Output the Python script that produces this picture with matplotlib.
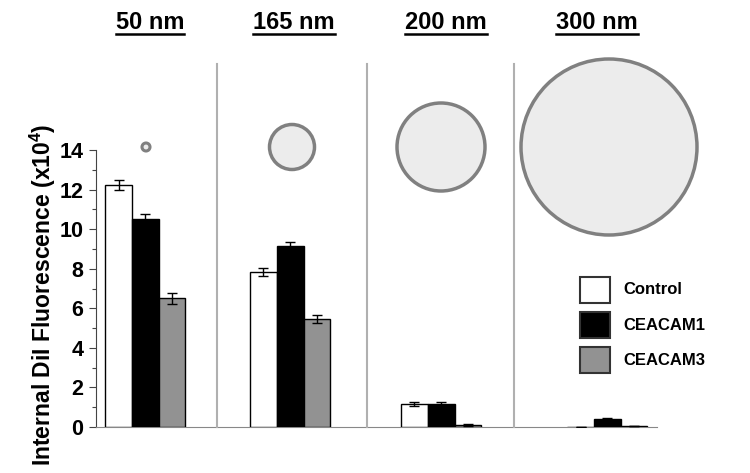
import matplotlib
matplotlib.use("Agg")
import matplotlib.pyplot as plt
from matplotlib.patches import Circle, Rectangle
from matplotlib.lines import Line2D
import numpy as np

plt.rcParams['font.family'] = ['Liberation Sans', 'DejaVu Sans']
plt.rcParams['mathtext.fontset'] = 'custom'
plt.rcParams['mathtext.bf'] = 'Liberation Sans:bold'
plt.rcParams['mathtext.rm'] = 'Liberation Sans:bold'

# data
sizes = ['50 nm', '165 nm', '200 nm', '300 nm']
series = ['Control', 'CEACAM1', 'CEACAM3']
control = [12.25, 7.85, 1.15, 0.02]
ceacam1 = [10.5, 9.15, 1.15, 0.40]
ceacam3 = [6.5, 5.45, 0.10, 0.05]
control_err = [0.25, 0.2, 0.1, 0.0]
ceacam1_err = [0.25, 0.2, 0.12, 0.04]
ceacam3_err = [0.28, 0.2, 0.03, 0.0]
# particle sketch radii (pixels) roughly scaled to diameter
circle_r = [4, 22.5, 44, 88]

colors = ['white', 'black', '#929292']
W, H, DPI = 750, 473, 100

fig = plt.figure(figsize=(W / DPI, H / DPI), dpi=DPI)
ax = fig.add_axes([96 / W, (H - 427) / H, (657 - 96) / W, (427 - 150) / H])

centers = np.array([1.85, 7.27, 12.92, 19.14])
bw = 1.0
vals = [control, ceacam1, ceacam3]
errs = [control_err, ceacam1_err, ceacam3_err]
for i, (v, e) in enumerate(zip(vals, errs)):
    x = centers + (i - 1) * bw
    ax.bar(x, v, width=bw, color=colors[i], edgecolor='black', linewidth=1.0,
           yerr=e, capsize=3.5, error_kw=dict(elinewidth=1.0, capthick=1.0, ecolor='black'),
           label=series[i], zorder=3)

ax.set_xlim(0, 21)
ax.set_ylim(0, 14)
ax.set_yticks(np.arange(0, 15, 2))
ax.set_yticks(np.arange(1, 14, 2), minor=True)
ax.set_xticks([])
for s in ['top', 'right']:
    ax.spines[s].set_visible(False)
ax.spines['left'].set_color('#444444')
ax.spines['bottom'].set_color('#888888')
ax.tick_params(axis='y', which='major', length=5, width=0.8, color='#444444',
               labelsize=15.5, pad=4)
ax.tick_params(axis='y', which='minor', length=3, width=0.8, color='#444444')
for lab in ax.get_yticklabels():
    lab.set_fontweight('bold')

fig.text(43 / W, (H - 295) / H, r'Internal DiI Fluorescence (x10$^{\mathbf{4}}$)',
         fontsize=16.5, fontweight='bold', rotation=90, ha='center', va='center')

tr = fig.dpi_scale_trans

def px(x, y):
    return (x / DPI, (H - y) / DPI)

# separators
for sx in [217, 367, 514]:
    fig.add_artist(Line2D([sx / DPI, sx / DPI], [(H - 64) / DPI, (H - 427) / DPI],
                          transform=tr, color='#b0b0b0', linewidth=1.5))

# particle circles
cxs = [146, 292, 441, 609]
for cx, r in zip(cxs, circle_r):
    lw = 2.5 if r > 10 else 2.2
    fig.add_artist(Circle(px(cx, 147), r / DPI, transform=tr, facecolor='#ececec',
                          edgecolor='#808080', linewidth=lw))

# size headers (underlined)
title_x = [150, 294, 446, 597]
fig.canvas.draw()
for tx, s in zip(title_x, sizes):
    t = fig.text(tx / W, (H - 22.5) / H, s, ha='center', va='center', fontsize=17,
                 fontweight='bold')
    bb = t.get_window_extent(renderer=fig.canvas.get_renderer())
    fig.add_artist(Line2D([bb.x0 / DPI, bb.x1 / DPI], [(H - 33.5) / DPI, (H - 33.5) / DPI],
                          transform=tr, color='black', linewidth=1.8))

# legend
leg_y = [290, 325, 360]
for i, ly in enumerate(leg_y):
    fig.add_artist(Rectangle(px(580, ly + 13), 30 / DPI, 26 / DPI, transform=tr,
                             facecolor=colors[i], edgecolor='#333333', linewidth=1.5))
    fig.text(623 / W, (H - ly) / H, series[i], ha='left', va='center', fontsize=12,
             fontweight='bold')

fig.savefig('out.png', dpi=DPI)
